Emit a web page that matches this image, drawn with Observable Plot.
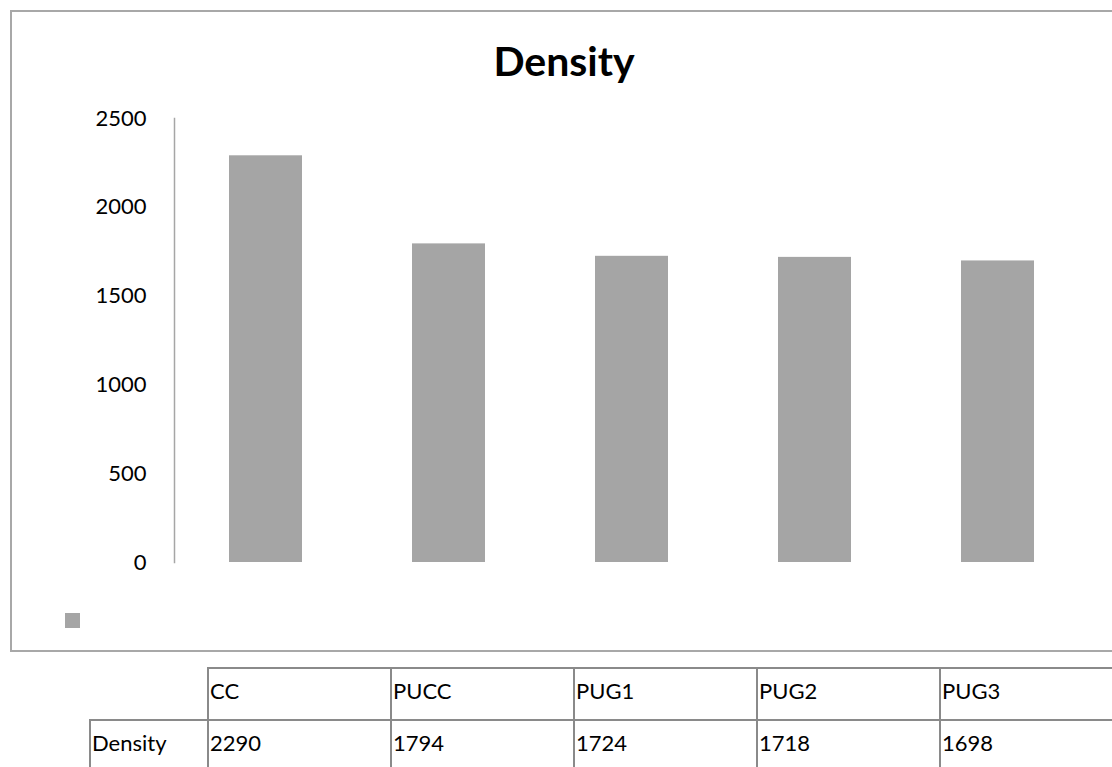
<!DOCTYPE html>
<html>
<head>
<meta charset="utf-8">
<script src="https://cdn.jsdelivr.net/npm/d3@7"></script>
<script src="https://cdn.jsdelivr.net/npm/@observablehq/plot@0.6"></script>
<style>
  html, body { margin: 0; padding: 0; background: #fff; }
  #page { position: relative; width: 1112px; height: 767px; overflow: hidden; font-family: Lato, "Open Sans", sans-serif; color: #000; }
  #chartBox { position: absolute; left: 10px; top: 10px; width: 1120px; height: 642px; border: 2px solid #a8a8a8; border-right: none; box-sizing: border-box; }
  #title { position: absolute; left: 0; width: 1128px; top: 36px; text-align: center; font-size: 41px; font-weight: 700; line-height: 50px; }
  #plot { position: absolute; left: 0; top: 0; }
  #legendKey { position: absolute; left: 65px; top: 613px; width: 15px; height: 15px; }
  .cell { position: absolute; box-sizing: border-box; border-left: 2px solid #8a8a8a; border-top: 2px solid #8a8a8a; font-size: 22px; padding: 5px 0 0 1px; line-height: 34px; white-space: nowrap; }
</style>
</head>
<body>
<div id="page">
  <div id="chartBox"></div>
  <div id="title"></div>
  <div id="plot"></div>
  <div id="legendKey"></div>
  <div id="table"></div>
</div>
<script>
// Density per mix
const categories = ["CC", "PUCC", "PUG1", "PUG2", "PUG3"];
const densities = [2290, 1794, 1724, 1718, 1698];
const seriesName = "Density";
const yTicks = [0, 500, 1000, 1500, 2000, 2500];
const barColor = "#a5a5a5";

const rows = categories.map((c, i) => ({category: c, value: densities[i]}));

document.getElementById("title").textContent = seriesName;
document.getElementById("legendKey").style.background = barColor;

const chart = Plot.plot({
  width: 1112,
  height: 600,
  marginLeft: 174,
  marginRight: 23,
  marginTop: 118,
  marginBottom: 38,
  style: {fontFamily: "Lato, 'Open Sans', sans-serif", fontSize: "22px", color: "#000", background: "transparent"},
  x: {domain: categories, paddingInner: 0.6, paddingOuter: 0.3, axis: null},
  y: {domain: [0, 2500], ticks: yTicks, axis: null},
  marks: [
    Plot.barY(rows, {x: "category", y: "value", fill: barColor}),
    Plot.axisY({ticks: yTicks, tickSize: 0, tickPadding: 28, tickFormat: d => String(d), label: null, fontSize: 22, fill: "#000"}),
    Plot.frame({anchor: "left", stroke: "#a6a6a6", strokeWidth: 1.5})
  ]
});
document.getElementById("plot").appendChild(chart);

// Data table under the chart, one column per category
const table = document.getElementById("table");
const colLeft = 207, colStep = 183, headTop = 667, rowH = 52;
function addCell(text, left, top, width) {
  const d = document.createElement("div");
  d.className = "cell";
  d.style.left = left + "px";
  d.style.top = top + "px";
  d.style.width = width + "px";
  d.style.height = (rowH + 10) + "px";
  d.textContent = text;
  table.appendChild(d);
}
categories.forEach((c, i) => addCell(c, colLeft + i * colStep, headTop, colStep));
addCell(seriesName, 89, headTop + rowH, colLeft - 89);
densities.forEach((v, i) => addCell(String(v), colLeft + i * colStep, headTop + rowH, colStep));
</script>
</body>
</html>
